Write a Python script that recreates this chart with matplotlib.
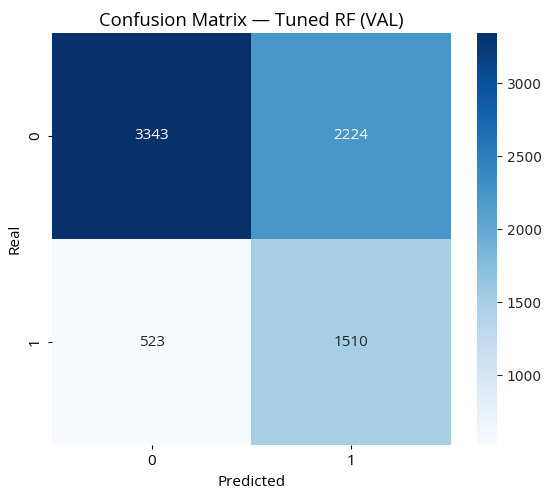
import matplotlib
matplotlib.use("Agg")
import matplotlib.pyplot as plt
import seaborn as sns
import numpy as np

classes = ["0", "1"]
row0 = [3343, 2224]
row1 = [523, 1510]
cm = np.array([row0, row1])
cbar_ticks = [1000, 1500, 2000, 2500, 3000]

fig = plt.figure(figsize=(5.5, 4.96), dpi=100)
ax = fig.add_axes([0.0945, 0.1028, 0.7255, 0.8307])
cax = fig.add_axes([0.867, 0.1028, 0.0364, 0.8307])

sns.heatmap(cm, annot=True, fmt="d", cmap="Blues", ax=ax, cbar_ax=cax,
            xticklabels=classes, yticklabels=classes,
            annot_kws={"fontsize": 11, "fontfamily": "Open Sans"})
cax.set_yticks(cbar_ticks)
cax.tick_params(labelsize=10, colors="#262626")
for t in cax.get_yticklabels():
    t.set_color("#262626")

ax.set_title("Confusion Matrix — Tuned RF (VAL)", fontsize=13.3, family="Open Sans", pad=5)
ax.set_xlabel("Predicted", fontsize=11, family="Open Sans")
ax.set_ylabel("Real", fontsize=11, family="Open Sans")
for t in ax.get_xticklabels() + ax.get_yticklabels():
    t.set_family("Open Sans")
    t.set_fontsize(11)
ax.tick_params(length=3)

fig.savefig("out.png", dpi=100)
